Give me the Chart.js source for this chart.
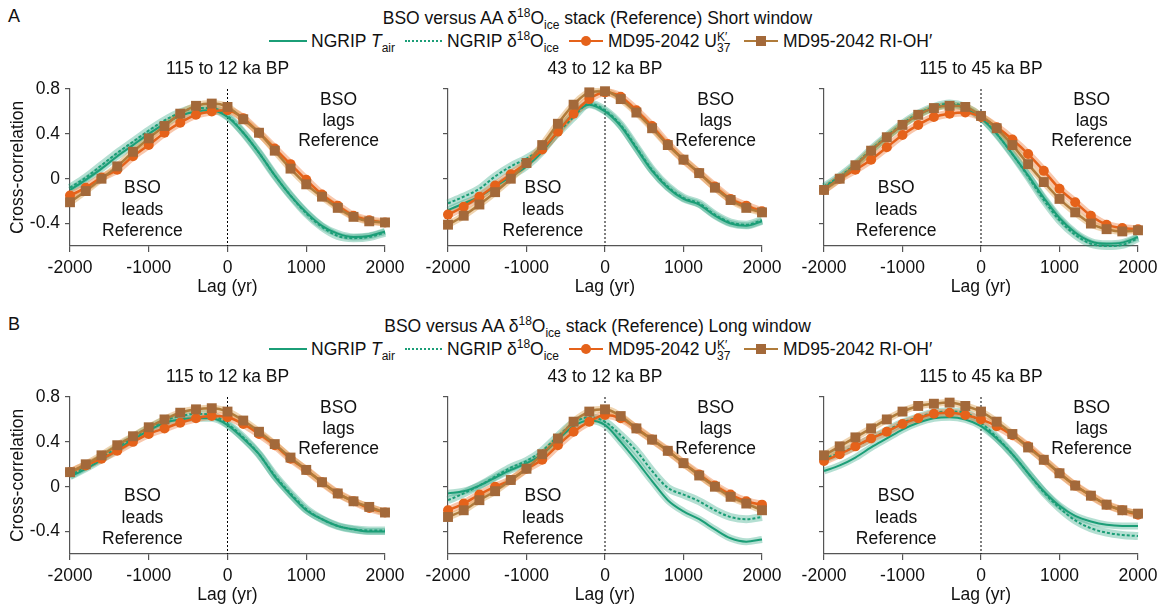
<!DOCTYPE html>
<html>
<head>
<meta charset="utf-8">
<script src="https://cdn.jsdelivr.net/npm/chart.js@4.4.1/dist/chart.umd.min.js"></script>
<style>
body { margin: 0; width: 1165px; height: 611px; background: #fff; position: relative; overflow: hidden;
  font-family: "Liberation Sans", Arial, sans-serif; font-size: 17.5px; color: #111; }
.abs { position: absolute; white-space: nowrap; line-height: 22px; height: 22px; }
.sup { font-size: 12px; position: relative; top: -7px; }
.sub { font-size: 12px; position: relative; top: 5px; }
.stack { display: inline-block; font-size: 12px; line-height: 11px; vertical-align: -5px; }
.ln { position: absolute; height: 0; }
.mk { position: absolute; }
canvas { position: absolute; }
</style>
</head>
<body>
<script>
// lag axis (yr), one point every 200 yr
const lags = [-2000, -1800, -1600, -1400, -1200, -1000, -800, -600, -400, -200, 0,
              200, 400, 600, 800, 1000, 1200, 1400, 1600, 1800, 2000];
const yTicks = [0.8, 0.4, 0, -0.4];
const panelTitles = ["115 to 12 ka BP", "43 to 12 ka BP", "115 to 45 ka BP"];
const rowWindows = ["Short window", "Long window"];
const rowLetters = ["A", "B"];

// A: short window
const a1Tair = [-0.10, -0.01, 0.09, 0.20, 0.30, 0.40, 0.49, 0.56, 0.60, 0.61, 0.55, 0.41, 0.23, 0.03, -0.15, -0.30, -0.42, -0.49, -0.52, -0.51, -0.47];
const a1D18O = [-0.08, 0.01, 0.12, 0.23, 0.33, 0.43, 0.52, 0.59, 0.63, 0.63, 0.56, 0.41, 0.23, 0.03, -0.15, -0.31, -0.43, -0.51, -0.53, -0.52, -0.48];
const a1Uk37 = [-0.15, -0.08, 0.01, 0.08, 0.20, 0.30, 0.41, 0.50, 0.57, 0.60, 0.61, 0.54, 0.41, 0.27, 0.13, -0.01, -0.14, -0.24, -0.33, -0.37, -0.39];
const a1RIOH = [-0.21, -0.11, 0.00, 0.11, 0.24, 0.36, 0.47, 0.58, 0.65, 0.67, 0.64, 0.53, 0.41, 0.25, 0.09, -0.05, -0.16, -0.26, -0.34, -0.38, -0.39];

const a2Tair = [-0.28, -0.22, -0.16, -0.07, 0.02, 0.11, 0.24, 0.42, 0.58, 0.66, 0.60, 0.47, 0.27, 0.07, -0.08, -0.18, -0.23, -0.33, -0.40, -0.42, -0.38];
const a2D18O = [-0.22, -0.16, -0.09, 0.02, 0.11, 0.18, 0.27, 0.41, 0.55, 0.67, 0.61, 0.48, 0.28, 0.08, -0.07, -0.17, -0.22, -0.32, -0.39, -0.41, -0.37];
const a2Uk37 = [-0.32, -0.25, -0.16, -0.06, 0.04, 0.14, 0.26, 0.42, 0.58, 0.71, 0.77, 0.73, 0.61, 0.47, 0.31, 0.17, 0.05, -0.07, -0.18, -0.24, -0.29];
const a2RIOH = [-0.41, -0.33, -0.23, -0.12, 0.00, 0.14, 0.30, 0.49, 0.66, 0.77, 0.78, 0.71, 0.59, 0.45, 0.30, 0.17, 0.05, -0.08, -0.19, -0.26, -0.30];

const a3Tair = [-0.08, 0.01, 0.12, 0.25, 0.37, 0.48, 0.57, 0.63, 0.66, 0.63, 0.54, 0.40, 0.22, 0.03, -0.17, -0.35, -0.48, -0.56, -0.58, -0.57, -0.52];
const a3D18O = [-0.07, 0.02, 0.13, 0.26, 0.38, 0.49, 0.58, 0.64, 0.67, 0.64, 0.55, 0.40, 0.22, 0.02, -0.19, -0.37, -0.50, -0.58, -0.60, -0.59, -0.53];
const a3Uk37 = [-0.10, 0.00, 0.08, 0.17, 0.28, 0.39, 0.48, 0.55, 0.58, 0.59, 0.55, 0.46, 0.35, 0.22, 0.07, -0.09, -0.21, -0.33, -0.41, -0.44, -0.45];
const a3RIOH = [-0.10, 0.00, 0.12, 0.25, 0.37, 0.48, 0.57, 0.63, 0.65, 0.64, 0.56, 0.45, 0.30, 0.13, -0.03, -0.18, -0.30, -0.40, -0.45, -0.47, -0.46];

// B: long window
const b1Tair = [0.09, 0.16, 0.24, 0.33, 0.42, 0.50, 0.57, 0.60, 0.61, 0.61, 0.55, 0.43, 0.29, 0.09, -0.07, -0.21, -0.29, -0.35, -0.38, -0.40, -0.40];
const b1D18O = [0.10, 0.18, 0.26, 0.35, 0.44, 0.52, 0.59, 0.63, 0.65, 0.64, 0.56, 0.44, 0.29, 0.10, -0.06, -0.20, -0.29, -0.35, -0.38, -0.39, -0.39];
const b1Uk37 = [0.13, 0.19, 0.25, 0.32, 0.40, 0.47, 0.52, 0.57, 0.61, 0.63, 0.62, 0.56, 0.47, 0.37, 0.25, 0.15, 0.04, -0.06, -0.13, -0.19, -0.23];
const b1RIOH = [0.13, 0.20, 0.28, 0.37, 0.45, 0.53, 0.60, 0.66, 0.69, 0.70, 0.67, 0.59, 0.49, 0.38, 0.26, 0.15, 0.04, -0.06, -0.13, -0.18, -0.23];

const b2Tair = [-0.06, -0.04, 0.01, 0.08, 0.15, 0.21, 0.29, 0.42, 0.54, 0.59, 0.55, 0.40, 0.23, 0.05, -0.12, -0.22, -0.29, -0.38, -0.46, -0.49, -0.47];
const b2D18O = [-0.12, -0.06, 0.01, 0.09, 0.17, 0.23, 0.32, 0.45, 0.57, 0.62, 0.58, 0.46, 0.32, 0.14, -0.01, -0.07, -0.13, -0.21, -0.27, -0.29, -0.27];
const b2Uk37 = [-0.21, -0.15, -0.07, 0.00, 0.06, 0.16, 0.24, 0.37, 0.49, 0.58, 0.64, 0.61, 0.52, 0.42, 0.32, 0.21, 0.11, 0.01, -0.07, -0.13, -0.16];
const b2RIOH = [-0.27, -0.21, -0.12, -0.04, 0.06, 0.16, 0.29, 0.43, 0.58, 0.67, 0.69, 0.63, 0.52, 0.42, 0.32, 0.21, 0.10, 0.00, -0.09, -0.15, -0.21];

const b3Tair = [0.14, 0.19, 0.26, 0.35, 0.43, 0.51, 0.57, 0.61, 0.62, 0.60, 0.54, 0.43, 0.29, 0.12, -0.04, -0.17, -0.26, -0.31, -0.34, -0.35, -0.35];
const b3D18O = [0.25, 0.30, 0.36, 0.43, 0.50, 0.57, 0.62, 0.66, 0.67, 0.66, 0.57, 0.44, 0.29, 0.12, -0.05, -0.19, -0.30, -0.37, -0.41, -0.43, -0.44];
const b3Uk37 = [0.23, 0.29, 0.36, 0.43, 0.49, 0.56, 0.61, 0.65, 0.66, 0.64, 0.60, 0.54, 0.46, 0.36, 0.24, 0.12, 0.01, -0.08, -0.16, -0.21, -0.25];
const b3RIOH = [0.28, 0.36, 0.44, 0.52, 0.60, 0.67, 0.72, 0.74, 0.75, 0.72, 0.67, 0.58, 0.47, 0.35, 0.24, 0.12, 0.01, -0.08, -0.16, -0.21, -0.24];

const panels = [
    [[a1Tair, a1D18O, a1Uk37, a1RIOH], [a2Tair, a2D18O, a2Uk37, a2RIOH], [a3Tair, a3D18O, a3Uk37, a3RIOH]],
    [[b1Tair, b1D18O, b1Uk37, b1RIOH], [b2Tair, b2D18O, b2Uk37, b2RIOH], [b3Tair, b3D18O, b3Uk37, b3RIOH]]
];

// styles
const TEAL = "#1b9e77", TEAL_BAND = "rgba(27, 158, 119, 0.33)";
const ORANGE = "#e5621a", ORANGE_BAND = "rgba(240, 130, 70, 0.45)";
const BROWN = "#a3693a", BROWN_LINE = "#b07b3a", BROWN_BAND = "rgba(220, 160, 80, 0.45)";
const AXIS = "#555";
const FONT = { family: '"Liberation Sans", Arial, sans-serif', size: 17.5 };

// layout in page pixels
const colLeft = [70, 448, 824];
const colWidth = [315, 314, 314];
const rowTop = [89, 397];
const plotH = 157;
const leadsX = [-1080, -790, -1080];   // lag where "BSO leads Reference" is centred

function pts(arr) {
    return arr.map((v, i) => ({ x: lags[i], y: v }));
}

const panelDeco = {
    id: 'panelDeco',
    beforeDatasetsDraw(chart, args, opts) {
        const { ctx, chartArea, scales } = chart;
        const x0 = scales.x.getPixelForValue(0);
        ctx.save();
        ctx.strokeStyle = "#000";
        ctx.lineWidth = 1;
        ctx.setLineDash([2, 2]);
        ctx.beginPath();
        ctx.moveTo(x0, chartArea.top);
        ctx.lineTo(x0, chartArea.bottom);
        ctx.stroke();
        ctx.setLineDash([]);

        ctx.fillStyle = "#111";
        ctx.font = FONT.size + "px " + FONT.family;
        ctx.textAlign = "center";
        ctx.textBaseline = "middle";
        ctx.fillText(opts.title, (chartArea.left + chartArea.right) / 2, chartArea.top - 20);

        const lagsY = [0.70, 0.515, 0.335], leadsY = [-0.085, -0.28, -0.47];
        ["BSO", "lags", "Reference"].forEach((t, i) => {
            ctx.fillText(t, scales.x.getPixelForValue(1410), scales.y.getPixelForValue(lagsY[i]));
        });
        ["BSO", "leads", "Reference"].forEach((t, i) => {
            ctx.fillText(t, scales.x.getPixelForValue(opts.leadsX), scales.y.getPixelForValue(leadsY[i]));
        });
        ctx.restore();
    }
};

function makePanel(row, col) {
    const [tair, d18o, uk37, rioh] = panels[row][col];
    const cv = document.createElement("canvas");
    const w = colWidth[col] + 100, h = plotH + 84;
    cv.width = w;
    cv.height = h;
    cv.style.left = (colLeft[col] - 70) + "px";
    cv.style.top = (rowTop[row] - 32) + "px";
    document.body.appendChild(cv);

    // first dataset is drawn on top
    const datasets = [
        { data: pts(rioh), borderColor: BROWN_LINE, borderWidth: 2.5, pointStyle: 'rect', pointRadius: 7,
          pointBackgroundColor: BROWN, pointBorderWidth: 0 },
        { data: pts(uk37), borderColor: ORANGE, borderWidth: 2.5, pointStyle: 'circle', pointRadius: 5,
          pointBackgroundColor: ORANGE, pointBorderWidth: 0 },
        { data: pts(d18o), borderColor: TEAL, borderWidth: 2, borderDash: [3, 2], pointRadius: 0 },
        { data: pts(tair), borderColor: TEAL, borderWidth: 2, pointRadius: 0 },
        { data: pts(rioh), borderColor: BROWN_BAND, borderWidth: 7, pointRadius: 0 },
        { data: pts(uk37), borderColor: ORANGE_BAND, borderWidth: 8, pointRadius: 0 },
        { data: pts(d18o), borderColor: TEAL_BAND, borderWidth: 8, pointRadius: 0 },
        { data: pts(tair), borderColor: TEAL_BAND, borderWidth: 7, pointRadius: 0 }
    ];
    datasets.forEach(d => { d.clip = false; d.fill = false; });

    new Chart(cv, {
        type: 'line',
        data: { datasets: datasets },
        options: {
            responsive: false,
            animation: false,
            devicePixelRatio: 1,
            layout: { padding: { left: 0, top: 32, right: 30, bottom: 0 } },
            elements: { line: { cubicInterpolationMode: 'monotone' } },
            plugins: {
                legend: { display: false },
                tooltip: { enabled: false },
                panelDeco: { title: panelTitles[col], leadsX: leadsX[col] }
            },
            scales: {
                x: {
                    type: 'linear', min: -2000, max: 2000,
                    afterFit(s) { s.height = 52; },
                    ticks: { stepSize: 1000, color: "#111", font: FONT, padding: 6, maxRotation: 0,
                             autoSkip: false, callback: v => String(v) },
                    grid: { drawOnChartArea: false, drawTicks: true, tickLength: 6, color: AXIS, lineWidth: 1.2 },
                    border: { color: AXIS, width: 1.2 },
                    title: { display: true, text: "Lag (yr)", color: "#111", font: FONT, padding: 0 }
                },
                y: {
                    min: -0.6, max: 0.8,
                    afterFit(s) { s.width = 70; },
                    afterBuildTicks(s) { s.ticks = yTicks.map(v => ({ value: v })); },
                    ticks: { color: "#111", font: FONT, padding: 5,
                             callback: v => col > 0 ? "" : (v === 0 ? "0" : v.toFixed(1)) },
                    grid: { drawOnChartArea: false, drawTicks: true, tickLength: 5, color: AXIS, lineWidth: 1.2 },
                    border: { color: AXIS, width: 1.2 },
                    title: { display: col === 0, text: "Cross-correlation", color: "#111", font: FONT,
                             padding: { top: 7.5, bottom: 0 } }
                }
            }
        },
        plugins: [panelDeco]
    });
}

function addDiv(html, left, cy, extra) {
    const d = document.createElement("div");
    d.className = "abs";
    d.innerHTML = html;
    d.style.left = left + "px";
    d.style.top = (cy - 11) + "px";
    if (extra) Object.assign(d.style, extra);
    document.body.appendChild(d);
}

function addLine(x1, x2, cy, style, color) {
    const d = document.createElement("div");
    d.className = "ln";
    d.style.left = x1 + "px";
    d.style.width = (x2 - x1) + "px";
    d.style.top = (cy - 1) + "px";
    d.style.borderTop = "2px " + style + " " + color;
    document.body.appendChild(d);
}

function addMarker(cx, cy, size, color, round) {
    const d = document.createElement("div");
    d.className = "mk";
    d.style.left = (cx - size / 2) + "px";
    d.style.top = (cy - size / 2) + "px";
    d.style.width = size + "px";
    d.style.height = size + "px";
    d.style.background = color;
    if (round) d.style.borderRadius = "50%";
    document.body.appendChild(d);
}

function makeHeader(row) {
    const off = row * 308;
    addDiv(rowLetters[row], 8, 16 + off, { fontSize: "18px" });
    // title is centred over the legend row, not the page
    addDiv('BSO versus AA &delta;<span class="sup">18</span>O<span class="sub">ice</span> stack (Reference) ' + rowWindows[row],
           30, 18 + off, { width: "1135px", textAlign: "center" });

    const ly = 41 + off;
    addLine(269, 307, ly, "solid", TEAL);
    addDiv('NGRIP <i>T</i><span class="sub">air</span>', 311, ly);
    addLine(405, 442, ly, "dotted", TEAL);
    addDiv('NGRIP &delta;<span class="sup">18</span>O<span class="sub">ice</span>', 447, ly);
    addLine(569, 603, ly, "solid", ORANGE);
    addMarker(586, ly, 10, ORANGE, true);
    addDiv('MD95-2042 U<span class="stack">K&prime;<br>37</span>', 608, ly);
    addLine(744, 778, ly, "solid", BROWN_LINE);
    addMarker(761, ly, 10, BROWN, false);
    addDiv('MD95-2042 RI-OH&prime;', 783, ly);
}

for (let r = 0; r < 2; r++) {
    makeHeader(r);
    for (let c = 0; c < 3; c++) {
        makePanel(r, c);
    }
}
</script>
</body>
</html>
